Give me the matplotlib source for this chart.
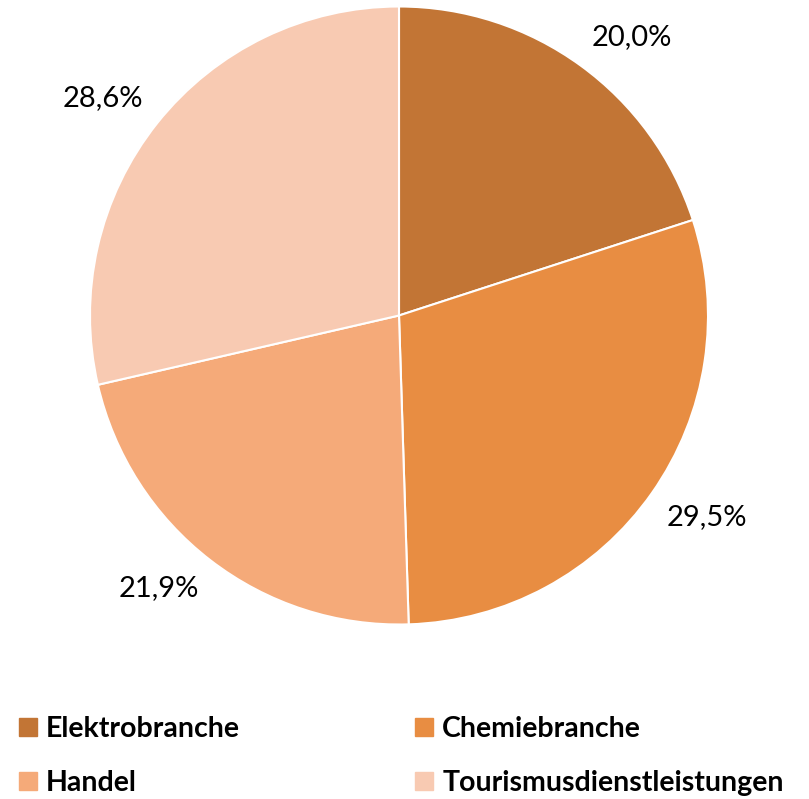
import numpy as np
import matplotlib.pyplot as plt
from matplotlib.lines import Line2D

# --- Data ---
categories = ["Elektrobranche", "Chemiebranche", "Handel", "Tourismusdienstleistungen"]
shares = [20.0, 29.5, 21.9, 28.6]
colors = ["#C27535", "#E88D42", "#F5AA79", "#F8CAB2"]

plt.rcParams["font.family"] = ["Lato", "DejaVu Sans"]

fig = plt.figure(figsize=(8.09, 7.99), dpi=100)
ax = fig.add_axes([90 / 809, (799 - 624.5) / 799, 618 / 809, 618 / 799])

wedges, _ = ax.pie(
    shares,
    colors=colors,
    startangle=90,
    counterclock=False,
    wedgeprops=dict(edgecolor="white", linewidth=1.5),
)
ax.set_aspect("equal")
ax.set_xlim(-1, 1)
ax.set_ylim(-1, 1)
ax.axis("off")

# outside-end labels, anchored just past the rim like Excel does
for w, v in zip(wedges, shares):
    mid = np.deg2rad((w.theta1 + w.theta2) / 2)
    c, s = np.cos(mid), np.sin(mid)
    ax.text(1.06 * c, 1.06 * s, f"{v:.1f}%".replace(".", ","),
            ha="left" if c > 0 else "right",
            va="bottom" if s > 0 else "top",
            fontsize=21, color="black")

# --- Legend (row-major like the original) ---
order = [0, 2, 1, 3]
handles = [Line2D([0], [0], marker="s", linestyle="none", markersize=13,
                  markerfacecolor=colors[i], markeredgecolor=colors[i]) for i in order]
fig.legend(handles, [categories[i] for i in order], ncol=2, loc="upper left",
           bbox_to_anchor=(-8 / 809, 1 - 690 / 799), frameon=False,
           prop=dict(size=20.5, weight="bold"), handlelength=0.7,
           handletextpad=0.3, columnspacing=6.1, labelspacing=1.0)

fig.savefig("out.png", dpi=100)
